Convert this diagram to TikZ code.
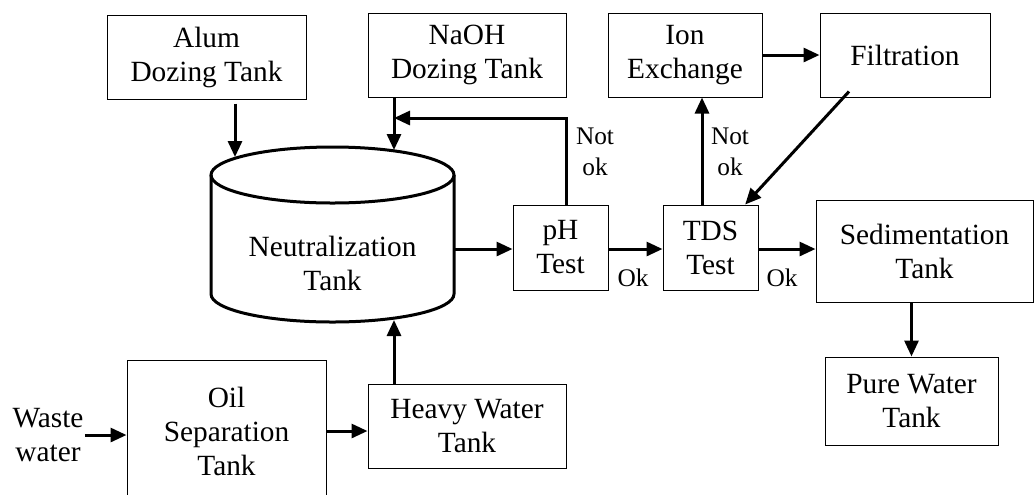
\documentclass[tikz,border=0pt]{standalone}
\usepackage{fontspec}
\setmainfont{Liberation Serif}
\usetikzlibrary{arrows.meta}

\tikzset{every picture/.style={line width=0.75pt}}
\tikzset{
  box/.style={draw, align=center, inner sep=0.75pt, font=\fontsize{22}{25.5}\selectfont},
  flow/.style={line width=2.25pt, -{Triangle[length=12pt,width=10.5pt]}},
  tank/.style={line width=2.25pt},
  note/.style={align=center, inner sep=0.75pt, font=\fontsize{19}{23}\selectfont}
}

\begin{document}
\begin{tikzpicture}[x=0.75pt,y=0.75pt,yscale=-1,xscale=1]
    \useasboundingbox (0,0) rectangle (1035,494);

    %Shape: Rectangle [id:alum]
    \node[box, minimum width=149.25pt, minimum height=63pt] (alum) at (206.5,57) {Alum\\Dozing Tank};
    %Shape: Rectangle [id:naoh]
    \node[box, minimum width=148.5pt, minimum height=63pt] (naoh) at (467,55) {NaOH\\Dozing Tank};
    %Shape: Rectangle [id:ion]
    \node[box, minimum width=115.5pt, minimum height=63pt] (ion) at (685,55) {Ion\\Exchange};
    %Shape: Rectangle [id:filt]
    \node[box, minimum width=127.5pt, minimum height=63pt] (filt) at (905,55) {Filtration};
    %Shape: Rectangle [id:ph]
    \node[box, minimum width=71.25pt, minimum height=63.75pt] (ph) at (560.5,247.5) {pH\\Test};
    %Shape: Rectangle [id:tds]
    \node[box, minimum width=71.25pt, minimum height=63.75pt] (tds) at (710.5,247.5) {TDS\\Test};
    %Shape: Rectangle [id:sed]
    \node[box, minimum width=162.75pt, minimum height=76.5pt] (sed) at (924.5,251) {Sedimentation\\Tank};
    %Shape: Rectangle [id:pure]
    \node[box, minimum width=129.75pt, minimum height=66pt] (pure) at (911.5,401) {Pure Water\\Tank};
    %Shape: Rectangle [id:heavy]
    \node[box, minimum width=148.5pt, minimum height=63pt] (heavy) at (467,426) {Heavy Water\\Tank};
    %Shape: Rectangle [id:oil]
    \node[box, minimum width=149.25pt, minimum height=106.5pt] (oil) at (226.5,431) {Oil\\Separation\\Tank};

    %Shape: Can [id:neut]
    \draw[tank] (332.5,175) ellipse (121.5 and 28);
    \draw[tank] (211,175) -- (211,294) arc[start angle=180, end angle=0, x radius=121.5, y radius=28] -- (454,175);
    \node[box, draw=none] (neut) at (332.5,263) {Neutralization\\Tank};
    \coordinate (inA) at (235,157);
    \coordinate (inB) at (394,150);
    \coordinate (inC) at (394,320);
    \coordinate (out) at (454,249);
    \coordinate (fb) at (566,118);
    \coordinate (up) at (702,205);

    % Text Node
    \node[box, draw=none] (waste) at (48,435) {Waste\\water};

    % Arrows
    \draw[flow, shorten <=3pt] (alum.south -| inA) -- (inA);
    \draw[flow] (naoh.south -| inB) -- (inB);
    \draw[flow] (ph.north -| fb) -- (fb) -- (fb -| inB);
    \draw[flow] (out) -- (out -| ph.west);
    \draw[flow] (ph.east |- out) -- (out -| tds.west);
    \draw[flow] (tds.east |- out) -- (out -| sed.west);
    \draw[flow] (up) -- (up |- ion.south);
    \draw[flow] (ion.east) -- (ion.east -| filt.west);
    \draw[flow] ([xshift=-42pt,yshift=-4.5pt]filt.south) -- ([xshift=26pt]tds.north);
    \draw[flow] (sed.south -| pure.north) -- (pure.north);
    \draw[flow] (heavy.north -| inC) -- (inC);
    \draw[flow] (oil.east) -- (oil.east -| heavy.west);
    \draw[flow] (waste.east) -- (waste.east -| oil.west);

    % Text Node
    \node[note] (nok1) at (595,152) {Not\\ok};
    % Text Node
    \node[note] (nok2) at (730,152) {Not\\ok};
    % Text Node
    \node[note] (ok1) at (633,278) {Ok};
    % Text Node
    \node[note] (ok2) at (782,278) {Ok};

\end{tikzpicture}
\end{document}
